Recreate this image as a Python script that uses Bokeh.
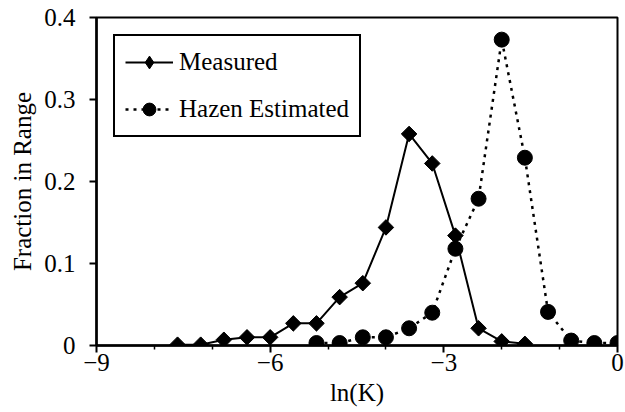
import math
from bokeh.plotting import figure
from bokeh.models import Legend, LegendItem, FixedTicker, Range1d, ColumnDataSource
from bokeh.embed import file_html
from bokeh.resources import INLINE

measured_x = [-7.6, -7.2, -6.8, -6.4, -6.0, -5.6, -5.2, -4.8, -4.4, -4.0, -3.6, -3.2, -2.8, -2.4, -2.0, -1.6]
measured_y = [0.001, 0.001, 0.007, 0.010, 0.010, 0.027, 0.027, 0.059, 0.076, 0.144, 0.258, 0.222, 0.134, 0.021, 0.005, 0.002]

hazen_x = [-5.2, -4.8, -4.4, -4.0, -3.6, -3.2, -2.8, -2.4, -2.0, -1.6, -1.2, -0.8, -0.4, 0.0]
hazen_y = [0.003, 0.003, 0.010, 0.010, 0.021, 0.040, 0.118, 0.179, 0.373, 0.229, 0.041, 0.006, 0.003, 0.003]

x_major_ticks = [-9, -6, -3, 0]
x_minor_ticks = [-8, -7, -5, -4, -2, -1]
y_major_ticks = [0, 0.1, 0.2, 0.3, 0.4]

FONT = "Liberation Serif"
FS = "25px"

p = figure(width=625, height=412, output_backend="svg", toolbar_location=None,
           x_range=Range1d(-9, 0), y_range=Range1d(0, 0.4),
           min_border_left=96, min_border_right=8, min_border_top=17, min_border_bottom=67)

p.xgrid.visible = False
p.ygrid.visible = False
p.outline_line_color = "black"
p.outline_line_width = 2
p.background_fill_color = "white"
p.border_fill_color = "white"

msrc = ColumnDataSource(data=dict(x=measured_x, y=measured_y))
l1 = p.line("x", "y", source=msrc, line_color="black", line_width=2)
# narrow diamonds (used for the legend swatch), covered by the rotated squares below
s1_leg = p.scatter("x", "y", source=msrc, marker="diamond", size=14,
                   fill_color="black", line_color="black")
s1 = p.scatter("x", "y", source=msrc, marker="square", size=11, angle=math.pi / 4,
               fill_color="black", line_color="black")

l2 = p.line(hazen_x, hazen_y, line_color="black", line_width=2.5, line_dash="3 5")
s2 = p.scatter(hazen_x, hazen_y, marker="circle", size=15, fill_color="black", line_color="black")

xa = p.xaxis[0]
xa.ticker = FixedTicker(ticks=x_major_ticks, minor_ticks=x_minor_ticks)
xa.axis_label = "ln(K)"
ya = p.yaxis[0]
ya.ticker = FixedTicker(ticks=y_major_ticks)
ya.axis_label = "Fraction in Range"
ya.minor_tick_line_color = None

for ax in (xa, ya):
    ax.axis_line_color = "black"
    ax.axis_line_width = 2.5
    ax.major_tick_line_color = "black"
    ax.major_tick_line_width = 2
    ax.major_tick_out = 7
    ax.major_tick_in = 0
    ax.major_label_text_font = FONT
    ax.major_label_text_font_size = FS
    ax.major_label_text_color = "#000000"
    ax.axis_label_text_font = FONT
    ax.axis_label_text_font_size = FS
    ax.axis_label_text_font_style = "normal"
    ax.axis_label_text_color = "#000000"
xa.minor_tick_line_color = "black"
xa.minor_tick_line_width = 1.5
xa.minor_tick_out = 4
xa.minor_tick_in = 0
xa.major_label_standoff = 1
xa.axis_label_standoff = 5
ya.major_label_standoff = 14
ya.axis_label_standoff = 5

legend = Legend(items=[LegendItem(label="Measured", renderers=[l1, s1_leg]),
                       LegendItem(label="Hazen Estimated", renderers=[l2, s2])],
                location=(17, 208))
legend.border_line_color = "black"
legend.border_line_alpha = 1
legend.border_line_width = 2
legend.background_fill_alpha = 1
legend.margin = 0
legend.padding = 10
legend.spacing = 15
legend.glyph_width = 48
legend.glyph_height = 32
legend.label_height = 32
legend.label_standoff = 6
legend.label_text_font = FONT
legend.label_text_font_size = FS
legend.label_text_color = "black"
p.add_layout(legend, "center")

open("out.html", "w").write(file_html(p, INLINE))
